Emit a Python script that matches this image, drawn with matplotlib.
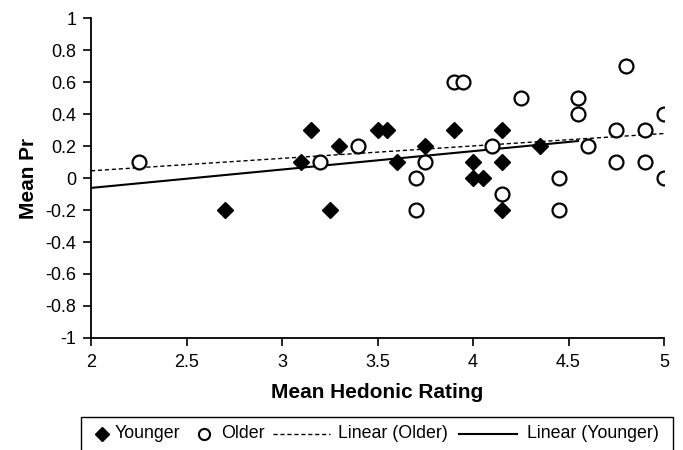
import matplotlib.pyplot as plt
from matplotlib.lines import Line2D
from matplotlib.patches import Rectangle
import numpy as np

plt.rcParams['font.family'] = ['Liberation Sans', 'DejaVu Sans']

# Younger group
young_x = [2.7, 3.1, 3.15, 3.25, 3.3, 3.5, 3.55, 3.6, 3.75, 3.9, 4.0, 4.0, 4.05, 4.15, 4.15, 4.15, 4.35]
young_y = [-0.2, 0.1, 0.3, -0.2, 0.2, 0.3, 0.3, 0.1, 0.2, 0.3, 0.1, 0.0, 0.0, 0.3, 0.1, -0.2, 0.2]

# Older group
old_x = [2.25, 3.2, 3.4, 3.7, 3.7, 3.75, 3.9, 3.95, 4.1, 4.15, 4.25, 4.45, 4.45,
         4.55, 4.55, 4.6, 4.75, 4.75, 4.8, 4.9, 4.9, 5.0, 5.0]
old_y = [0.1, 0.1, 0.2, 0.0, -0.2, 0.1, 0.6, 0.6, 0.2, -0.1, 0.5, 0.0, -0.2,
         0.5, 0.4, 0.2, 0.3, 0.1, 0.7, 0.3, 0.1, 0.4, 0.0]

# trendlines as drawn in the chart (end points)
old_trend_x = [2.0, 5.0]
old_trend_y = [0.045, 0.278]
young_trend_x = [2.0, 4.55]
young_trend_y = [-0.062, 0.231]

W, H = 683, 450
fig = plt.figure(figsize=(W/100, H/100), dpi=100)
ax = fig.add_axes([91/W, 1-338/H, (664-91)/W, (338-18)/H])

ax.plot(old_trend_x, old_trend_y, color='k', linestyle=(0, (3, 2)), linewidth=1, zorder=2)
ax.plot(young_trend_x, young_trend_y, color='k', linestyle='-', linewidth=1.5, zorder=2)
ax.plot(young_x, young_y, 'D', color='k', markersize=8.5, linestyle='none', zorder=3)
ax.plot(old_x, old_y, 'o', markerfacecolor='white', markeredgecolor='k',
        markeredgewidth=1.6, markersize=10, linestyle='none', zorder=4)

ax.set_xlim(2, 5)
ax.set_ylim(-1, 1)
ax.set_xticks(np.arange(2, 5.01, 0.5))
ax.set_xticklabels(['2', '2.5', '3', '3.5', '4', '4.5', '5'])
ax.set_yticks(np.arange(-1, 1.01, 0.2))
ax.set_yticklabels(['-1', '-0.8', '-0.6', '-0.4', '-0.2', '0', '0.2', '0.4', '0.6', '0.8', '1'])
ax.tick_params(direction='out', length=5.5, width=1.2, labelsize=13)
ax.tick_params(axis='x', pad=6)
ax.tick_params(axis='y', pad=5)
ax.spines['top'].set_visible(False)
ax.spines['right'].set_visible(False)
ax.spines['left'].set_linewidth(1.3)
ax.spines['bottom'].set_linewidth(1.3)

ax.set_xlabel('Mean Hedonic Rating', fontsize=15, fontweight='bold', labelpad=9)
ax.set_ylabel('Mean Pr', fontsize=15, fontweight='bold', labelpad=5)

# legend drawn by hand: box runs off the bottom of the image
def fx(px):
    return px / W

def fy(py):
    return 1 - py / H

fig.patches.append(Rectangle((fx(81), fy(460)), fx(673) - fx(81), fy(417) - fy(460),
                             transform=fig.transFigure, facecolor='none',
                             edgecolor='k', linewidth=1))
ly = fy(434)
fig.lines.append(Line2D([fx(102)], [ly], marker='D', color='k', markersize=7,
                        linestyle='none', transform=fig.transFigure))
fig.text(fx(115), ly, 'Younger', fontsize=12.8, va='center', ha='left')
fig.lines.append(Line2D([fx(204)], [ly], marker='o', markerfacecolor='white',
                        markeredgecolor='k', markeredgewidth=1.5, markersize=8,
                        linestyle='none', transform=fig.transFigure))
fig.text(fx(221), ly, 'Older', fontsize=12.8, va='center', ha='left')
fig.lines.append(Line2D([fx(273), fx(330)], [ly, ly], color='k', linestyle=(0, (3, 2)),
                        linewidth=1, transform=fig.transFigure))
fig.text(fx(338), ly, 'Linear (Older)', fontsize=12.8, va='center', ha='left')
fig.lines.append(Line2D([fx(459), fx(517)], [ly, ly], color='k', linestyle='-',
                        linewidth=1.5, transform=fig.transFigure))
fig.text(fx(527), ly, 'Linear (Younger)', fontsize=12.8, va='center', ha='left')

fig.savefig('out.png', dpi=100)
